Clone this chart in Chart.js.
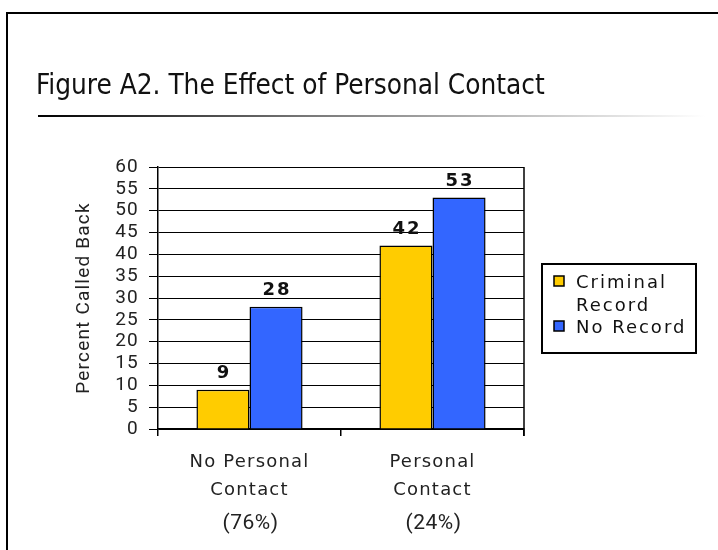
<!DOCTYPE html>
<html>
<head>
<meta charset="utf-8">
<script src="https://cdn.jsdelivr.net/npm/chart.js@4.4.0/dist/chart.umd.min.js"></script>
<style>
  body { margin: 0; background: #fff; }
  #canvas { display: block; }
</style>
</head>
<body>
<canvas id="canvas" width="718" height="550"></canvas>
<script>
// data
var categories = [['No Personal', 'Contact'], ['Personal', 'Contact']];
var shares = ['(76%)', '(24%)'];
var criminalRecord = [9, 42];
var noRecord = [28, 53];
var seriesNames = ['Criminal Record', 'No Record'];
var legendLines = [['Criminal', 'Record'], ['No Record']];
var seriesColors = ['#FFCC00', '#3366FF'];
var yMin = 0, yMax = 60, yStep = 5;
var titleText = 'Figure A2. The Effect of Personal Contact';

/* frame, title, gradient rule, right edge, value labels, percentages, legend */
var extras = {
  id: 'extras',
  beforeDraw: function(chart) {
    var ctx = chart.ctx;
    ctx.letterSpacing = '1.2px';
    ctx.save();
    ctx.fillStyle = '#fff';
    ctx.fillRect(0, 0, chart.width, chart.height);
    ctx.strokeStyle = '#000';
    ctx.lineWidth = 2;
    ctx.strokeRect(7, 13, 900, 900);
    ctx.letterSpacing = '0px';
    ctx.fillStyle = '#111';
    ctx.font = '27.7px "Liberation Sans Narrow", "DejaVu Sans Condensed", sans-serif';
    ctx.textBaseline = 'alphabetic';
    ctx.fillText(titleText, 36, 94);
    var g = ctx.createLinearGradient(38, 0, 705, 0);
    g.addColorStop(0, '#000');
    g.addColorStop(0.4, '#777');
    g.addColorStop(1, '#fff');
    ctx.fillStyle = g;
    ctx.fillRect(38, 115, 667, 2);
    ctx.restore();
  },
  afterDraw: function(chart) {
    var ctx = chart.ctx;
    var area = chart.chartArea;
    ctx.save();
    ctx.strokeStyle = '#000';
    ctx.lineWidth = 1.5;
    ctx.beginPath();
    ctx.moveTo(area.right, area.top);
    ctx.lineTo(area.right, area.bottom + 7);
    ctx.stroke();

    // values above the bars
    ctx.fillStyle = '#111';
    ctx.font = 'bold 18px "DejaVu Sans", sans-serif';
    ctx.letterSpacing = '2px';
    ctx.textAlign = 'center';
    ctx.textBaseline = 'alphabetic';
    chart.data.datasets.forEach(function(ds, i) {
      chart.getDatasetMeta(i).data.forEach(function(bar, j) {
        ctx.fillText(String(ds.data[j]), bar.x + 1, bar.y - 12);
      });
    });

    // shares under the category names
    var xs = chart.scales.x;
    ctx.font = '21px Roboto, sans-serif';
    ctx.letterSpacing = '0.5px';
    ctx.fillStyle = '#222';
    ctx.textBaseline = 'middle';
    shares.forEach(function(s, j) {
      ctx.fillText(s, xs.getPixelForValue(j) + 1, 524);
    });

    // legend
    var lx = 542, ly = 264, lw = 154, lh = 89;
    ctx.lineWidth = 2;
    ctx.strokeStyle = '#000';
    ctx.strokeRect(lx, ly, lw, lh);
    ctx.font = '18px "DejaVu Sans", sans-serif';
    ctx.letterSpacing = '2px';
    ctx.textAlign = 'left';
    ctx.textBaseline = 'alphabetic';
    var rowY = 288;
    legendLines.forEach(function(lines, i) {
      ctx.fillStyle = seriesColors[i];
      ctx.fillRect(554, rowY - 12, 10, 10);
      ctx.lineWidth = 1.5;
      ctx.strokeRect(554, rowY - 12, 10, 10);
      ctx.fillStyle = '#111';
      lines.forEach(function(t, k) {
        ctx.fillText(t, 576, rowY + k * 23);
      });
      rowY += lines.length * 22.5;
    });
    ctx.restore();
  }
};

new Chart(document.getElementById('canvas'), {
  type: 'bar',
  data: {
    labels: categories,
    datasets: [
      {
        label: seriesNames[0],
        data: criminalRecord,
        backgroundColor: seriesColors[0],
        borderColor: '#000',
        borderWidth: 1.5,
        categoryPercentage: 0.58,
        barPercentage: 1.0
      },
      {
        label: seriesNames[1],
        data: noRecord,
        backgroundColor: seriesColors[1],
        borderColor: '#000',
        borderWidth: 1.5,
        categoryPercentage: 0.58,
        barPercentage: 1.0
      }
    ]
  },
  options: {
    responsive: false,
    animation: false,
    devicePixelRatio: 1,
    layout: {
      padding: { left: 70, top: 167, right: 194, bottom: 21 }
    },
    plugins: {
      legend: { display: false },
      title: { display: false },
      tooltip: { enabled: false }
    },
    scales: {
      x: {
        afterFit: function(scale) { scale.height = 100; },
        grid: {
          drawOnChartArea: false,
          color: '#000',
          tickLength: 7,
          lineWidth: 1.5
        },
        border: { color: '#000', width: 1.5 },
        ticks: {
          color: '#222',
          padding: 12,
          font: { family: '"DejaVu Sans", sans-serif', size: 18, lineHeight: 1.55 }
        }
      },
      y: {
        min: yMin,
        max: yMax,
        afterFit: function(scale) { scale.width = 88; },
        grid: {
          color: '#000',
          lineWidth: 1,
          tickLength: 9
        },
        border: { color: '#000', width: 1.5 },
        ticks: {
          stepSize: yStep,
          autoSkip: false,
          color: '#222',
          padding: 10,
          font: { family: 'Roboto, sans-serif', size: 19 }
        },
        title: {
          display: true,
          text: 'Percent Called Back',
          color: '#222',
          font: { family: 'Roboto, sans-serif', size: 19 },
          padding: { top: 3, bottom: 0 }
        }
      }
    }
  },
  plugins: [extras]
});
</script>
</body>
</html>
